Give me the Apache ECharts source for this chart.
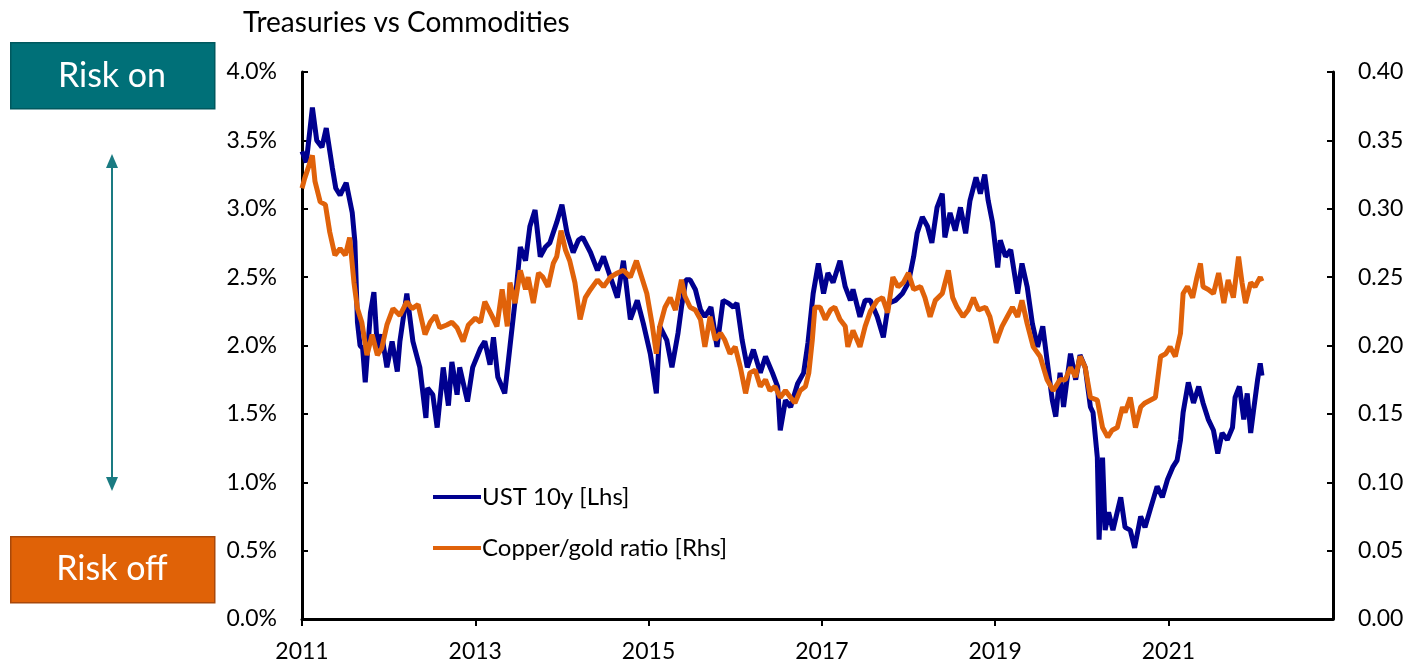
<!DOCTYPE html>
<html>
<head>
<meta charset="utf-8">
<script src="https://cdn.jsdelivr.net/npm/echarts@6/dist/echarts.min.js"></script>
<style>
  html, body { margin: 0; padding: 0; background: #fff; }
  #chart { width: 1412px; height: 665px; }
</style>
</head>
<body>
<div id="chart"></div>
<script>
// x axis starts at 2011, values below are decimal years
const baseYear = 2011
const xTickLabels = ["2011", "2013", "2015", "2017", "2019", "2021"]

// UST 10y yield, % (left axis)
const ustYears = [
  2011.00, 2011.05, 2011.12, 2011.17, 2011.23, 2011.28, 2011.35, 2011.39, 2011.44, 2011.51,
  2011.58, 2011.61, 2011.64, 2011.67, 2011.70, 2011.73, 2011.79, 2011.83, 2011.87, 2011.92,
  2011.98, 2012.04, 2012.10, 2012.13, 2012.21, 2012.28, 2012.36, 2012.43, 2012.45, 2012.51,
  2012.56, 2012.63, 2012.69, 2012.73, 2012.79, 2012.82, 2012.91, 2012.97, 2013.06, 2013.11,
  2013.17, 2013.21, 2013.26, 2013.34, 2013.40, 2013.46, 2013.52, 2013.58, 2013.63, 2013.69,
  2013.75, 2013.81, 2013.86, 2013.94, 2014.00, 2014.06, 2014.13, 2014.19, 2014.24, 2014.33,
  2014.41, 2014.48, 2014.56, 2014.64, 2014.71, 2014.79, 2014.87, 2014.94, 2015.02, 2015.09,
  2015.13, 2015.21, 2015.27, 2015.34, 2015.38, 2015.43, 2015.48, 2015.54, 2015.60, 2015.65,
  2015.72, 2015.79, 2015.86, 2015.92, 2015.98, 2016.02, 2016.08, 2016.14, 2016.21, 2016.29,
  2016.35, 2016.43, 2016.49, 2016.52, 2016.58, 2016.64, 2016.72, 2016.79, 2016.84, 2016.90,
  2016.96, 2017.02, 2017.07, 2017.13, 2017.21, 2017.27, 2017.33, 2017.36, 2017.44, 2017.50,
  2017.56, 2017.64, 2017.71, 2017.77, 2017.85, 2017.93, 2018.00, 2018.06, 2018.10, 2018.16,
  2018.22, 2018.27, 2018.33, 2018.39, 2018.42, 2018.48, 2018.54, 2018.60, 2018.66, 2018.71,
  2018.78, 2018.83, 2018.88, 2018.92, 2018.97, 2019.03, 2019.06, 2019.12, 2019.18, 2019.26,
  2019.31, 2019.37, 2019.43, 2019.49, 2019.55, 2019.60, 2019.66, 2019.70, 2019.75, 2019.79,
  2019.83, 2019.87, 2019.93, 2019.98, 2020.04, 2020.10, 2020.13, 2020.18, 2020.20, 2020.24,
  2020.27, 2020.31, 2020.36, 2020.45, 2020.50, 2020.56, 2020.61, 2020.68, 2020.73, 2020.79,
  2020.87, 2020.93, 2020.99, 2021.05, 2021.10, 2021.14, 2021.17, 2021.23, 2021.29, 2021.35,
  2021.40, 2021.46, 2021.52, 2021.57, 2021.62, 2021.68, 2021.74, 2021.77, 2021.82, 2021.87,
  2021.91, 2021.95, 2021.98, 2022.03, 2022.06, 2022.08
]
const ustVals = [
  3.42, 3.34, 3.74, 3.50, 3.45, 3.59, 3.30, 3.15, 3.10, 3.19,
  2.97, 2.76, 2.17, 2.00, 1.98, 1.73, 2.24, 2.39, 1.98, 2.08,
  1.84, 2.03, 1.81, 2.03, 2.38, 2.03, 1.84, 1.47, 1.69, 1.64,
  1.40, 1.84, 1.56, 1.88, 1.64, 1.84, 1.59, 1.84, 1.98, 2.03,
  1.86, 2.06, 1.77, 1.65, 1.99, 2.33, 2.72, 2.62, 2.87, 2.99,
  2.65, 2.72, 2.75, 2.90, 3.03, 2.82, 2.68, 2.77, 2.79, 2.68,
  2.55, 2.65, 2.50, 2.35, 2.62, 2.19, 2.33, 2.16, 1.94, 1.65,
  2.14, 2.04, 1.84, 2.09, 2.28, 2.48, 2.48, 2.41, 2.26, 2.21,
  2.28, 1.99, 2.33, 2.31, 2.28, 2.31, 2.04, 1.84, 1.97, 1.80,
  1.92, 1.80, 1.70, 1.38, 1.60, 1.55, 1.72, 1.80, 2.02, 2.38,
  2.60, 2.38, 2.53, 2.46, 2.62, 2.43, 2.33, 2.41, 2.21, 2.33,
  2.33, 2.21, 2.06, 2.31, 2.33, 2.38, 2.46, 2.65, 2.82, 2.94,
  2.87, 2.75, 3.01, 3.11, 2.79, 2.97, 2.84, 3.01, 2.82, 3.06,
  3.23, 3.11, 3.25, 3.06, 2.90, 2.57, 2.77, 2.65, 2.70, 2.38,
  2.60, 2.43, 2.16, 1.99, 2.14, 1.89, 1.60, 1.48, 1.80, 1.55,
  1.75, 1.94, 1.75, 1.93, 1.84, 1.55, 1.51, 1.18, 0.58, 1.18,
  0.65, 0.78, 0.65, 0.89, 0.67, 0.65, 0.52, 0.75, 0.67, 0.80,
  0.97, 0.89, 1.02, 1.11, 1.16, 1.31, 1.51, 1.73, 1.58, 1.70,
  1.58, 1.46, 1.38, 1.21, 1.36, 1.31, 1.40, 1.62, 1.70, 1.46,
  1.65, 1.36, 1.51, 1.75, 1.87, 1.78
]

// copper/gold ratio (right axis)
const cgYears = [
  2011.00, 2011.03, 2011.12, 2011.15, 2011.21, 2011.27, 2011.32, 2011.38, 2011.44, 2011.50,
  2011.55, 2011.60, 2011.64, 2011.69, 2011.75, 2011.81, 2011.87, 2011.92, 2011.98, 2012.05,
  2012.13, 2012.21, 2012.27, 2012.34, 2012.42, 2012.48, 2012.54, 2012.59, 2012.67, 2012.73,
  2012.79, 2012.86, 2012.92, 2013.00, 2013.06, 2013.11, 2013.19, 2013.25, 2013.31, 2013.37,
  2013.40, 2013.46, 2013.52, 2013.58, 2013.61, 2013.67, 2013.73, 2013.78, 2013.84, 2013.90,
  2013.94, 2013.99, 2014.04, 2014.09, 2014.15, 2014.21, 2014.27, 2014.33, 2014.41, 2014.48,
  2014.56, 2014.64, 2014.71, 2014.79, 2014.86, 2014.93, 2014.98, 2015.04, 2015.09, 2015.13,
  2015.19, 2015.25, 2015.31, 2015.38, 2015.42, 2015.48, 2015.54, 2015.60, 2015.65, 2015.71,
  2015.77, 2015.83, 2015.88, 2015.94, 2016.00, 2016.06, 2016.12, 2016.17, 2016.23, 2016.29,
  2016.35, 2016.40, 2016.46, 2016.52, 2016.58, 2016.64, 2016.69, 2016.75, 2016.81, 2016.85,
  2016.89, 2016.92, 2016.98, 2017.04, 2017.10, 2017.15, 2017.21, 2017.27, 2017.30, 2017.36,
  2017.44, 2017.50, 2017.56, 2017.64, 2017.70, 2017.76, 2017.82, 2017.88, 2017.94, 2018.00,
  2018.06, 2018.14, 2018.19, 2018.25, 2018.31, 2018.39, 2018.46, 2018.51, 2018.56, 2018.63,
  2018.69, 2018.75, 2018.81, 2018.89, 2018.94, 2019.01, 2019.08, 2019.14, 2019.20, 2019.26,
  2019.31, 2019.37, 2019.44, 2019.52, 2019.60, 2019.67, 2019.75, 2019.81, 2019.87, 2019.93,
  2019.98, 2020.04, 2020.10, 2020.18, 2020.24, 2020.30, 2020.35, 2020.41, 2020.47, 2020.50,
  2020.56, 2020.62, 2020.68, 2020.73, 2020.79, 2020.85, 2020.91, 2020.97, 2021.02, 2021.08,
  2021.14, 2021.17, 2021.22, 2021.28, 2021.33, 2021.37, 2021.40, 2021.46, 2021.52, 2021.58,
  2021.64, 2021.69, 2021.75, 2021.81, 2021.85, 2021.89, 2021.95, 2022.00, 2022.06, 2022.08
]
const cgVals = [
  0.315, 0.322, 0.339, 0.320, 0.305, 0.303, 0.283, 0.266, 0.271, 0.266,
  0.279, 0.246, 0.227, 0.217, 0.193, 0.208, 0.193, 0.198, 0.215, 0.227,
  0.222, 0.232, 0.227, 0.230, 0.208, 0.217, 0.222, 0.213, 0.215, 0.217,
  0.213, 0.203, 0.215, 0.220, 0.217, 0.232, 0.222, 0.214, 0.241, 0.214,
  0.246, 0.231, 0.255, 0.241, 0.250, 0.231, 0.253, 0.250, 0.243, 0.260,
  0.265, 0.284, 0.270, 0.262, 0.246, 0.219, 0.235, 0.241, 0.248, 0.243,
  0.250, 0.253, 0.255, 0.250, 0.262, 0.248, 0.238, 0.216, 0.194, 0.214,
  0.228, 0.235, 0.226, 0.248, 0.236, 0.228, 0.226, 0.219, 0.199, 0.221,
  0.204, 0.209, 0.204, 0.194, 0.199, 0.184, 0.165, 0.180, 0.182, 0.170,
  0.175, 0.167, 0.170, 0.162, 0.167, 0.162, 0.158, 0.167, 0.170, 0.180,
  0.204, 0.228, 0.228, 0.219, 0.226, 0.228, 0.219, 0.214, 0.199, 0.211,
  0.199, 0.214, 0.225, 0.233, 0.235, 0.224, 0.250, 0.243, 0.246, 0.253,
  0.241, 0.243, 0.235, 0.221, 0.233, 0.238, 0.255, 0.235, 0.228, 0.221,
  0.226, 0.235, 0.226, 0.228, 0.221, 0.202, 0.214, 0.221, 0.228, 0.221,
  0.233, 0.216, 0.199, 0.192, 0.175, 0.167, 0.175, 0.175, 0.184, 0.177,
  0.192, 0.184, 0.162, 0.160, 0.140, 0.133, 0.138, 0.140, 0.155, 0.151,
  0.162, 0.140, 0.155, 0.158, 0.160, 0.162, 0.192, 0.194, 0.199, 0.192,
  0.209, 0.238, 0.243, 0.235, 0.250, 0.260, 0.243, 0.241, 0.238, 0.253,
  0.231, 0.248, 0.235, 0.265, 0.246, 0.231, 0.246, 0.243, 0.250, 0.247
]

const FONT = "Lato"
const BLUE = "#00008f"
const ORANGE = "#e0620a"
const TEAL = "#007078"

function pairs(xs, ys) {
  return xs.map((x, i) => [x - baseYear, ys[i]])
}

const chart = echarts.init(document.getElementById("chart"), null, { renderer: "canvas" })

const axisLine = { show: true, lineStyle: { color: "#000", width: 3 } }
const tick = { show: true, inside: true, length: 6, lineStyle: { color: "#000", width: 2 } }
const labelStyle = { fontSize: 23, color: "#000", fontFamily: FONT }

chart.setOption({
  animation: false,
  backgroundColor: "#fff",
  textStyle: { fontFamily: FONT },
  title: {
    text: "Treasuries vs Commodities",
    left: 238, top: 4,
    textStyle: { fontFamily: FONT, fontSize: 28, fontWeight: "normal", color: "#000" }
  },
  grid: { left: 302, right: 79, top: 72, bottom: 46, containLabel: false },
  legend: {
    orient: "vertical",
    left: 428, top: 480,
    itemGap: 27,
    itemWidth: 48, itemHeight: 4,
    icon: "rect",
    textStyle: { fontFamily: FONT, fontSize: 24, color: "#000", padding: [0, 0, 0, -4] },
    data: ["UST 10y [Lhs]", "Copper/gold ratio [Rhs]"]
  },
  xAxis: {
    type: "value",
    min: 0, max: 11.9, interval: 2,
    axisLine: axisLine,
    axisTick: { show: true, length: 7, lineStyle: { color: "#000", width: 2 } },
    splitLine: { show: false },
    axisLabel: Object.assign({
      showMaxLabel: false, margin: 21,
      formatter: v => xTickLabels[v / 2] || ""
    }, labelStyle)
  },
  yAxis: [
    {
      type: "value", position: "left",
      min: 0, max: 4, interval: 0.5,
      axisLine: axisLine, axisTick: tick,
      splitLine: { show: false },
      axisLabel: Object.assign({ margin: 25, formatter: v => v.toFixed(1) + "%" }, labelStyle)
    },
    {
      type: "value", position: "right",
      min: 0, max: 0.4, interval: 0.05,
      axisLine: axisLine, axisTick: tick,
      splitLine: { show: false },
      axisLabel: Object.assign({ margin: 25, formatter: v => v.toFixed(2) }, labelStyle)
    }
  ],
  series: [
    {
      name: "UST 10y [Lhs]", type: "line", yAxisIndex: 0,
      data: pairs(ustYears, ustVals),
      showSymbol: false, color: BLUE,
      lineStyle: { width: 5, color: BLUE }
    },
    {
      name: "Copper/gold ratio [Rhs]", type: "line", yAxisIndex: 1,
      data: pairs(cgYears, cgVals),
      showSymbol: false, color: ORANGE,
      lineStyle: { width: 5, color: ORANGE }
    }
  ],
  graphic: [
    {
      type: "rect", left: 10, top: 42,
      shape: { width: 204, height: 66 },
      style: { fill: TEAL, stroke: "#00585e", lineWidth: 1.5 }
    },
    {
      type: "text", x: 112, y: 76,
      style: { text: "Risk on", fill: "#fff", font: "34px " + FONT, align: "center", verticalAlign: "middle" }
    },
    {
      type: "rect", left: 10, top: 536,
      shape: { width: 204, height: 66 },
      style: { fill: "#e06207", stroke: "#a8480a", lineWidth: 1.5 }
    },
    {
      type: "text", x: 112, y: 569,
      style: { text: "Risk off", fill: "#fff", font: "34px " + FONT, align: "center", verticalAlign: "middle" }
    },
    {
      type: "line",
      shape: { x1: 112, y1: 165, x2: 112, y2: 480 },
      style: { stroke: "#1a7b82", lineWidth: 2 }
    },
    {
      type: "polygon",
      shape: { points: [[112, 154], [106, 168], [118, 168]] },
      style: { fill: "#1a7b82" }
    },
    {
      type: "polygon",
      shape: { points: [[112, 491], [106, 477], [118, 477]] },
      style: { fill: "#1a7b82" }
    }
  ]
})
</script>
</body>
</html>
